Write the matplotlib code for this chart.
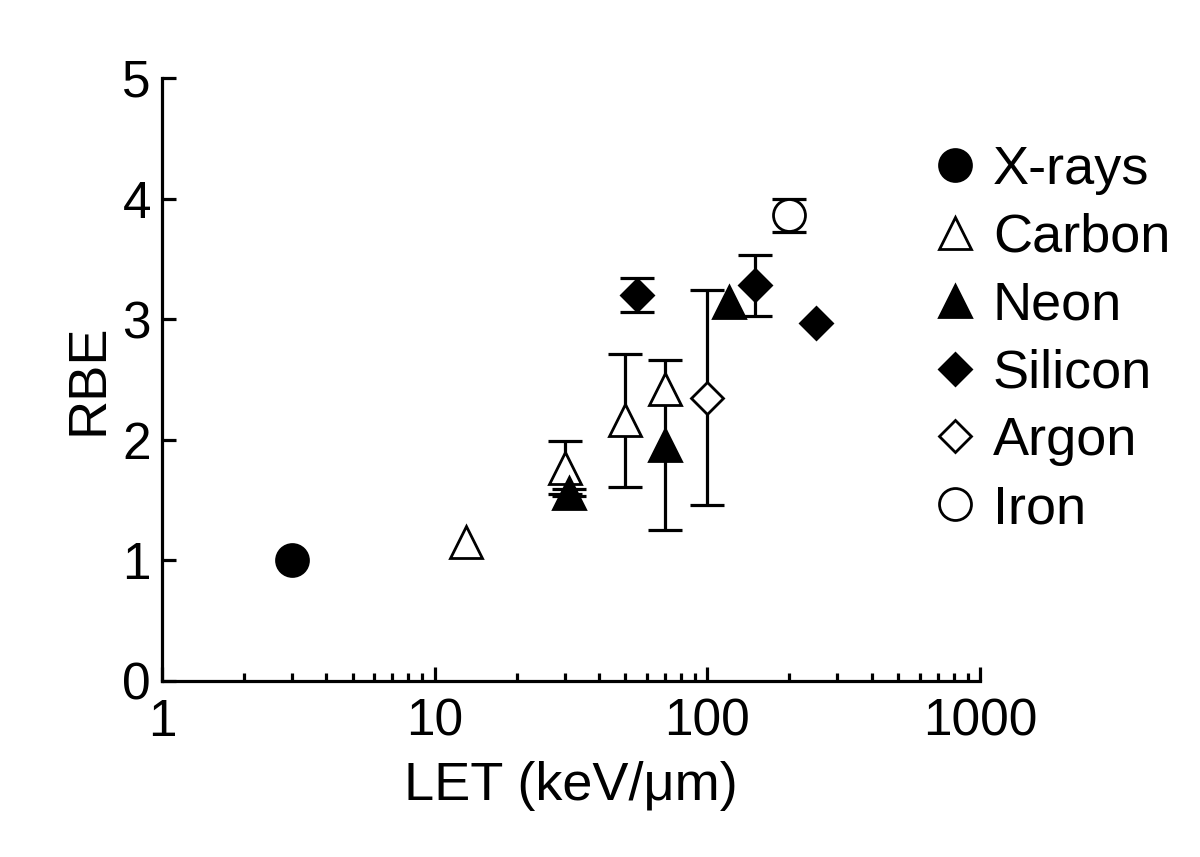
import matplotlib
matplotlib.use("Agg")
from matplotlib import pyplot as plt
from matplotlib.ticker import FixedLocator, FixedFormatter, LogLocator, NullFormatter

plt.rcParams["font.family"] = ["Liberation Sans", "DejaVu Sans"]

# LET (keV/um), RBE, error (symmetric, 0 = none)
xray_let = [3]
xray_rbe = [1.0]

carbon_let = [13, 30, 50, 70]
carbon_rbe = [1.15, 1.77, 2.16, 2.42]
carbon_err = [0, 0.22, 0.55, 0]

neon_let = [31, 70, 120]
neon_rbe = [1.56, 1.96, 3.14]
neon_err = [0.03, 0.705, 0]

silicon_let = [55, 150, 250]
silicon_rbe = [3.20, 3.28, 2.97]
silicon_err = [0.14, 0.25, 0]

argon_let = [100]
argon_rbe = [2.35]
argon_err = [0.89]

iron_let = [200]
iron_rbe = [3.86]
iron_err = [0.14]

x_ticks = [1, 10, 100, 1000]
y_ticks = [0, 1, 2, 3, 4, 5]

FS_TICK = 37
FS = 39
LW = 2.3

fig = plt.figure(figsize=(12, 8.57), dpi=100)
ax = fig.add_axes([0.135, 0.2054, 0.6817, 0.7036])


def series(xs, ys, errs, marker, face, ms, label):
    if errs is not None:
        for x, y, e in zip(xs, ys, errs):
            if e > 0:
                ax.errorbar([x], [y], yerr=[e], fmt="none", ecolor="black",
                            elinewidth=LW, capsize=12.5, capthick=LW, zorder=2)
    ax.plot(xs, ys, linestyle="none", marker=marker, markersize=ms,
            markerfacecolor=face, markeredgecolor="black", markeredgewidth=2.0,
            label=label, zorder=3)


series(xray_let, xray_rbe, None, "o", "black", 23, "X-rays")
series(carbon_let, carbon_rbe, carbon_err, "^", "white", 23, "Carbon")
series(neon_let, neon_rbe, neon_err, "^", "black", 23, "Neon")
series(silicon_let, silicon_rbe, silicon_err, "D", "black", 16, "Silicon")
series(argon_let, argon_rbe, argon_err, "D", "white", 16, "Argon")
series(iron_let, iron_rbe, iron_err, "o", "white", 23, "Iron")

ax.set_xscale("log")
ax.set_xlim(1, 1000)
ax.set_ylim(0, 5)
ax.xaxis.set_major_locator(FixedLocator(x_ticks))
ax.xaxis.set_major_formatter(FixedFormatter([str(t) for t in x_ticks]))
ax.xaxis.set_minor_locator(LogLocator(base=10, subs=range(2, 10)))
ax.xaxis.set_minor_formatter(NullFormatter())
ax.set_yticks(y_ticks)

for s in ["top", "right"]:
    ax.spines[s].set_visible(False)
for s in ["left", "bottom"]:
    ax.spines[s].set_linewidth(LW)

ax.tick_params(which="major", direction="in", length=10, width=LW,
               labelsize=FS_TICK, pad=12)
ax.tick_params(which="minor", direction="in", length=6, width=LW)
ax.tick_params(axis="y", pad=8)

ax.set_xlabel("LET (keV/\u03bcm)", fontsize=FS, labelpad=10)
ax.set_ylabel("RBE", fontsize=FS, labelpad=6)

ax.legend(loc="upper left", bbox_to_anchor=(0.923, 0.925), frameon=False,
          fontsize=FS, handlelength=0.6, handletextpad=0.4, labelspacing=0.33,
          borderaxespad=0)

fig.savefig("out.png", dpi=100)
